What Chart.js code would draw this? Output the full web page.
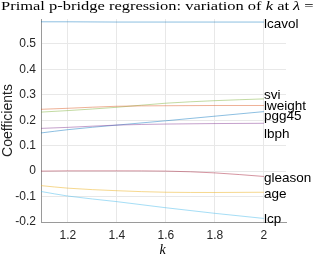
<!DOCTYPE html>
<html>
<head>
<meta charset="utf-8">
<script src="https://cdn.jsdelivr.net/npm/chart.js@4"></script>
<style>
html,body{margin:0;padding:0;background:#fff;}
canvas{display:block;}
</style>
</head>
<body>
<canvas id="c" width="316" height="255"></canvas>
<script>
// ---- data ----
const kValues = [1.09, 1.2, 1.4, 1.6, 1.8, 2.0];
const seriesNames = ['lcavol', 'lweight', 'age', 'lbph', 'svi', 'lcp', 'gleason', 'pgg45'];
const lcavol  = [0.587, 0.587, 0.586, 0.586, 0.586, 0.586];
const lweight = [0.243, 0.247, 0.255, 0.257, 0.258, 0.258];
const age     = [-0.057, -0.067, -0.077, -0.083, -0.084, -0.083];
const lbph    = [0.168, 0.172, 0.181, 0.185, 0.187, 0.188];
const svi     = [0.232, 0.238, 0.251, 0.267, 0.277, 0.284];
const lcp     = [-0.080, -0.098, -0.120, -0.144, -0.166, -0.186];
const gleason = [0.000, 0.001, 0.001, 0.000, -0.007, -0.021];
const pgg45   = [0.150, 0.163, 0.181, 0.198, 0.216, 0.234];
// label anchors (coefficient values where each name label sits at k = 2)
const labelValues = [0.579, 0.259, -0.089, 0.149, 0.302, -0.186, -0.024, 0.219];
const xTicks = [1.2, 1.4, 1.6, 1.8, 2];
const yTicks = [-0.2, -0.1, 0, 0.1, 0.2, 0.3, 0.4, 0.5];

const seriesValues = [lcavol, lweight, age, lbph, svi, lcp, gleason, pgg45];
const colors = ['rgba(0,114,189,0.45)', 'rgba(217,83,25,0.45)', 'rgba(237,177,32,0.5)',
  'rgba(126,47,142,0.45)', 'rgba(119,172,48,0.45)', 'rgba(77,190,238,0.5)',
  'rgba(162,20,47,0.45)', 'rgba(0,114,189,0.45)'];

const datasets = seriesNames.map((name, i) => ({
  label: name,
  data: kValues.map((k, j) => ({x: k, y: seriesValues[i][j]})),
  borderColor: colors[i],
  borderWidth: 1,
  pointRadius: 0,
  fill: false,
  cubicInterpolationMode: 'monotone'
}));

const textPlugin = {
  id: 'texts',
  afterDraw(chart) {
    const ctx = chart.ctx;
    const ca = chart.chartArea;
    const xs = chart.scales.x, ys = chart.scales.y;
    ctx.save();
    // series labels
    ctx.fillStyle = '#000';
    ctx.font = '13.5px "Liberation Sans", Arial, sans-serif';
    ctx.textAlign = 'left';
    ctx.textBaseline = 'alphabetic';
    const xEnd = xs.getPixelForValue(kValues[kValues.length - 1]);
    seriesNames.forEach((name, i) => {
      const y = ys.getPixelForValue(labelValues[i]);
      ctx.fillText(name, xEnd, y + 4.5);
    });
    // title (LaTeX-like serif, wide)
    const parts = [
      ['Primal p-bridge regression: variation of ', ''],
      ['k', 'italic '],
      [' at ', ''],
      ['λ', 'italic '],
      [' = 5', '']
    ];
    const size = 13;
    let total = 0;
    parts.forEach(p => { ctx.font = p[1] + size + 'px "Liberation Serif", serif'; total += ctx.measureText(p[0]).width; });
    const targetW = 325;
    const sx = targetW / total;
    ctx.save();
    ctx.translate((ca.left + ca.right) / 2 - targetW / 2, 10);
    ctx.scale(sx, 1);
    let x = 0;
    parts.forEach(p => {
      ctx.font = p[1] + size + 'px "Liberation Serif", serif';
      ctx.fillText(p[0], x, 0);
      x += ctx.measureText(p[0]).width;
    });
    ctx.restore();
    // x title
    ctx.font = 'italic 14px "Liberation Serif", serif';
    ctx.textAlign = 'center';
    ctx.fillText('k', (ca.left + ca.right) / 2 - 1, 254);
    // y title
    ctx.translate(12, (ca.top + ca.bottom) / 2);
    ctx.rotate(-Math.PI / 2);
    ctx.font = '14px "Liberation Sans", Arial, sans-serif';
    ctx.textAlign = 'center';
    ctx.fillStyle = '#222';
    ctx.fillText('Coefficients', 0, 0);
    ctx.restore();
  }
};

new Chart(document.getElementById('c'), {
  type: 'line',
  data: {datasets},
  options: {
    responsive: false,
    animation: false,
    devicePixelRatio: 1,
    layout: {padding: {left: 0, right: 30, top: 19, bottom: 0}},
    plugins: {legend: {display: false}, tooltip: {enabled: false}, title: {display: false}},
    scales: {
      x: {
        type: 'linear', min: 1.09, max: 2.09,
        afterBuildTicks(s) { s.ticks = xTicks.map(v => ({value: v})); },
        afterFit(s) { s.height = 33; },
        grid: {color: '#e8e8e8', drawTicks: false},
        border: {color: '#9a9a9a'},
        ticks: {padding: 6, color: '#262626', font: {family: '"Liberation Sans", Arial, sans-serif', size: 12}, callback: v => String(v)}
      },
      y: {
        type: 'linear', min: -0.2, max: 0.598,
        afterBuildTicks(s) { s.ticks = yTicks.map(v => ({value: v})); },
        afterFit(s) { s.width = 41; },
        grid: {color: '#e8e8e8', drawTicks: false},
        border: {color: '#9a9a9a'},
        ticks: {padding: 5, color: '#262626', font: {family: '"Liberation Sans", Arial, sans-serif', size: 12}, callback: v => String(v)}
      }
    }
  },
  plugins: [textPlugin]
});
</script>
</body>
</html>
